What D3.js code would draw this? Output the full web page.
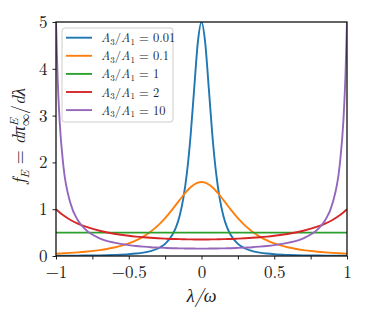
<!DOCTYPE html>
<html>
<head>
<meta charset="utf-8">
<script src="https://cdn.jsdelivr.net/npm/d3@7"></script>
<style>
  body { margin: 0; background: #fff; }
  svg { display: block; }
  svg text { font-family: "Latin Modern Roman", "Liberation Serif", serif; }
</style>
</head>
<body>
<svg id="chart" width="374" height="312"></svg>
<script>
// values
var lambda = [-1, -0.99, -0.975, -0.95, -0.9, -0.85, -0.8, -0.7, -0.6, -0.5, -0.45, -0.4, -0.35, -0.3, -0.25,
  -0.2, -0.175, -0.15, -0.125, -0.1, -0.075, -0.05, -0.025, 0, 0.025, 0.05, 0.075, 0.1, 0.125, 0.15, 0.175,
  0.2, 0.25, 0.3, 0.35, 0.4, 0.45, 0.5, 0.6, 0.7, 0.8, 0.85, 0.9, 0.95, 0.975, 0.99, 1];

var f001 = [0.005, 0.0052, 0.0054, 0.0058, 0.0068, 0.0081, 0.010, 0.014, 0.023, 0.038, 0.052, 0.072, 0.105, 0.160, 0.260,
  0.453, 0.618, 0.862, 1.23, 1.78, 2.57, 3.59, 4.57, 5.00, 4.57, 3.59, 2.57, 1.78, 1.23, 0.862, 0.618,
  0.453, 0.260, 0.160, 0.105, 0.072, 0.052, 0.038, 0.023, 0.014, 0.010, 0.0081, 0.0068, 0.0058, 0.0054, 0.0052, 0.005];

var f01 = [0.050, 0.0514, 0.0535, 0.0574, 0.0662, 0.0769, 0.090, 0.126, 0.181, 0.270, 0.333, 0.415, 0.519, 0.649, 0.810,
  0.997, 1.097, 1.199, 1.298, 1.389, 1.468, 1.529, 1.568, 1.581, 1.568, 1.529, 1.468, 1.389, 1.298, 1.199, 1.097,
  0.997, 0.810, 0.649, 0.519, 0.415, 0.333, 0.270, 0.181, 0.126, 0.090, 0.0769, 0.0662, 0.0574, 0.0535, 0.0514, 0.050];

var f1 = [0.5, 0.5, 0.5, 0.5, 0.5, 0.5, 0.5, 0.5, 0.5, 0.5, 0.5, 0.5, 0.5, 0.5, 0.5,
  0.5, 0.5, 0.5, 0.5, 0.5, 0.5, 0.5, 0.5, 0.5, 0.5, 0.5, 0.5, 0.5, 0.5, 0.5, 0.5,
  0.5, 0.5, 0.5, 0.5, 0.5, 0.5, 0.5, 0.5, 0.5, 0.5, 0.5, 0.5, 0.5, 0.5, 0.5, 0.5];

var f2 = [1.0, 0.971, 0.930, 0.870, 0.770, 0.693, 0.631, 0.539, 0.476, 0.432, 0.415, 0.401, 0.389, 0.379, 0.371,
  0.364, 0.362, 0.360, 0.358, 0.356, 0.355, 0.354, 0.354, 0.354, 0.354, 0.354, 0.355, 0.356, 0.358, 0.360, 0.362,
  0.364, 0.371, 0.379, 0.389, 0.401, 0.415, 0.432, 0.476, 0.539, 0.631, 0.693, 0.770, 0.870, 0.930, 0.971, 1.0];

var f10 = [5.0, 3.905, 2.880, 1.944, 1.121, 0.764, 0.573, 0.378, 0.285, 0.232, 0.214, 0.200, 0.188, 0.180, 0.173,
  0.167, 0.165, 0.163, 0.162, 0.160, 0.159, 0.159, 0.158, 0.158, 0.158, 0.159, 0.159, 0.160, 0.162, 0.163, 0.165,
  0.167, 0.173, 0.180, 0.188, 0.200, 0.214, 0.232, 0.285, 0.378, 0.573, 0.764, 1.121, 1.944, 2.880, 3.905, 5.0];

var ratioLabels = ["0.01", "0.1", "1", "2", "10"];
var seriesValues = [f001, f01, f1, f2, f10];
var colors = ["#1f77b4", "#ff7f0e", "#2ca02c", "#d62728", "#9467bd"];

var xTicks = [-1, -0.5, 0, 0.5, 1];
var xMinorTicks = [-0.75, -0.25, 0.25, 0.75];
var yTicks = [0, 1, 2, 3, 4, 5];

var FONT = "Latin Modern Roman";
var svg = d3.select("#chart");
var margin = {left: 56, right: 27, top: 22, bottom: 56};
var W = 374, H = 312;
var x = d3.scaleLinear().domain([-1, 1]).range([margin.left, W - margin.right]);
var y = d3.scaleLinear().domain([0, 5]).range([H - margin.bottom, margin.top]);

svg.append("defs").append("clipPath").attr("id", "plotclip")
  .append("rect")
  .attr("x", x(-1)).attr("y", y(5))
  .attr("width", x(1) - x(-1)).attr("height", y(0) - y(5));

var line = d3.line()
  .x(function(d){ return x(d[0]); })
  .y(function(d){ return y(d[1]); })
  .curve(d3.curveMonotoneX);

var lines = svg.append("g").attr("clip-path", "url(#plotclip)");
seriesValues.forEach(function(vals, i){
  lines.append("path")
    .attr("d", line(lambda.map(function(l, j){ return [l, vals[j]]; })))
    .attr("fill", "none")
    .attr("stroke", colors[i])
    .attr("stroke-width", 1.9)
    .attr("stroke-linejoin", "round");
});

// axes
var fmt = function(d){ return (d < 0 ? "\u2212" : "") + Math.abs(d); };
svg.append("g").attr("transform", "translate(0," + y(0) + ")")
  .call(d3.axisBottom(x).tickValues(xTicks).tickFormat(fmt).tickSize(3.5).tickPadding(6));
svg.append("g").attr("transform", "translate(0," + y(0) + ")")
  .call(d3.axisBottom(x).tickValues(xMinorTicks).tickFormat("").tickSize(3.5));
svg.append("g").attr("transform", "translate(" + x(-1) + ",0)")
  .call(d3.axisLeft(y).tickValues(yTicks).tickFormat(fmt).tickSize(3.5).tickPadding(5));

svg.selectAll(".tick text").attr("font-size", 17).attr("fill", "#222")
  .style("font-family", FONT);
svg.selectAll(".tick line").attr("stroke", "#222").attr("stroke-width", 1);
svg.selectAll(".domain").remove();

// frame
svg.append("rect")
  .attr("x", x(-1)).attr("y", y(5))
  .attr("width", x(1) - x(-1)).attr("height", y(0) - y(5))
  .attr("fill", "none").attr("stroke", "#111").attr("stroke-width", 1.3);

// axis labels
svg.append("text")
  .attr("x", (x(-1) + x(1)) / 2).attr("y", 302)
  .attr("text-anchor", "middle").attr("font-size", 18).attr("font-style", "italic")
  .style("font-family", FONT).attr("fill", "#222")
  .text("\u03bb/\u03c9");

var yl = svg.append("text")
  .attr("transform", "translate(25,136) rotate(-90)")
  .attr("text-anchor", "middle").attr("font-size", 18)
  .style("font-family", FONT).attr("fill", "#222");
yl.append("tspan").attr("font-style", "italic").text("f");
yl.append("tspan").attr("font-style", "italic").attr("font-size", 12).attr("dy", 4).text("E");
yl.append("tspan").attr("dy", -4).text(" = ");
yl.append("tspan").attr("font-style", "italic").text("d\u03c0");
yl.append("tspan").attr("font-style", "italic").attr("font-size", 12).attr("dy", -7).text("E");
yl.append("tspan").attr("font-size", 12).attr("dx", -8).attr("dy", 11).text("\u221e");
yl.append("tspan").attr("dy", -4).text("/");
yl.append("tspan").attr("font-style", "italic").text("d\u03bb");

// legend
var lg = svg.append("g");
lg.append("rect")
  .attr("x", 62).attr("y", 28).attr("width", 111).attr("height", 94)
  .attr("rx", 3).attr("fill", "#fff").attr("fill-opacity", 0.8)
  .attr("stroke", "#ccc").attr("stroke-width", 1);
ratioLabels.forEach(function(lab, i){
  var yy = 37.7 + i * 18.1;
  lg.append("line")
    .attr("x1", 66).attr("x2", 92).attr("y1", yy).attr("y2", yy)
    .attr("stroke", colors[i]).attr("stroke-width", 1.9);
  var t = lg.append("text").attr("x", 101).attr("y", yy + 4.5).attr("font-size", 12.5)
    .style("font-family", FONT).attr("fill", "#222");
  t.append("tspan").attr("font-style", "italic").text("A");
  t.append("tspan").attr("font-size", 9).attr("dy", 2.5).text("3");
  t.append("tspan").attr("dy", -2.5).text("/");
  t.append("tspan").attr("font-style", "italic").text("A");
  t.append("tspan").attr("font-size", 9).attr("dy", 2.5).text("1");
  t.append("tspan").attr("dy", -2.5).text(" = " + lab);
});
</script>
</body>
</html>
